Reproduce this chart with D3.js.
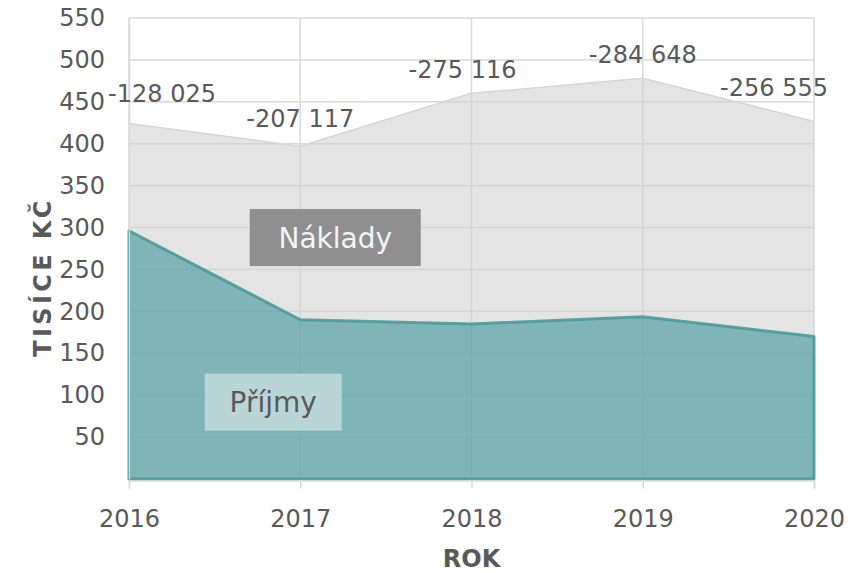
<!DOCTYPE html>
<html>
<head>
<meta charset="utf-8">
<script src="https://cdn.jsdelivr.net/npm/d3@7"></script>
<style>
	body { margin: 0; background: #fff; }
	svg { font-family: "DejaVu Sans", Verdana, sans-serif; }
	.axis text { fill: #595959; font-size: 24px; font-family: "DejaVu Sans", Verdana, sans-serif; }
	.axistitle { fill: #595959; font-size: 24px; font-weight: bold; }
	.datalabel { fill: #595959; font-size: 24px; }
</style>
</head>
<body>
<svg class="chart"></svg>
<script>
/* Area chart: Příjmy vs Náklady */

var years = [2016, 2017, 2018, 2019, 2020];
var prijmy = [296, 190, 185, 193.5, 170];
var naklady = [424, 397.1, 460.1, 478.1, 426.6];
var diffLabels = ["-128 025", "-207 117", "-275 116", "-284 648", "-256 555"];
var yTicks = [50, 100, 150, 200, 250, 300, 350, 400, 450, 500, 550];

var totalWidth = 852,
	totalHeight = 573;
var margin = {top: 18, right: 38, bottom: 94, left: 129},
	width = totalWidth - margin.left - margin.right,
	height = totalHeight - margin.top - margin.bottom;

var data = years.map(function(y, i) {
	return {year: y, prijmy: prijmy[i], naklady: naklady[i], label: diffLabels[i]};
});

var x = d3.scalePoint()
	.domain(years)
	.range([0, width]);

var y = d3.scaleLinear()
	.domain([0, 550])
	.range([height, 0]);

var svg = d3.select(".chart")
	.attr("width", totalWidth)
	.attr("height", totalHeight);

var chart = svg.append("g")
	.attr("transform", "translate(" + margin.left + "," + margin.top + ")");

// Grid lines (drawn under the translucent areas)
chart.append("g")
	.selectAll("line")
	.data(yTicks)
  .enter().append("line")
	.attr("x1", 0)
	.attr("x2", width)
	.attr("y1", function(d) { return y(d); })
	.attr("y2", function(d) { return y(d); })
	.attr("stroke", "#d9d9d9")
	.attr("stroke-width", 1.5);

chart.append("g")
	.selectAll("line")
	.data(years)
  .enter().append("line")
	.attr("x1", function(d) { return x(d); })
	.attr("x2", function(d) { return x(d); })
	.attr("y1", 0)
	.attr("y2", height)
	.attr("stroke", "#d9d9d9")
	.attr("stroke-width", 1.5);

// Náklady area
var areaNaklady = d3.area()
	.x(function(d) { return x(d.year); })
	.y0(height)
	.y1(function(d) { return y(d.naklady); });

chart.append("path")
	.datum(data)
	.attr("d", areaNaklady)
	.attr("fill", "#d1d1d1")
	.attr("fill-opacity", 0.58);

chart.append("path")
	.datum(data)
	.attr("d", d3.line()
		.x(function(d) { return x(d.year); })
		.y(function(d) { return y(d.naklady); }))
	.attr("fill", "none")
	.attr("stroke", "#d6d6d6")
	.attr("stroke-width", 1.5);

// Příjmy area
var areaPrijmy = d3.area()
	.x(function(d) { return x(d.year); })
	.y0(height)
	.y1(function(d) { return y(d.prijmy); });

chart.append("path")
	.datum(data)
	.attr("d", areaPrijmy)
	.attr("fill", "#54a1a4")
	.attr("fill-opacity", 0.7)
	.attr("stroke", "#4a9a9c")
	.attr("stroke-opacity", 0.9)
	.attr("stroke-width", 3)
	.attr("stroke-linejoin", "round");

// Axes
var xAxis = d3.axisBottom(x)
	.tickSize(8)
	.tickPadding(14)
	.tickFormat(d3.format("d"));

var yAxis = d3.axisLeft(y)
	.tickValues(yTicks)
	.tickSize(0)
	.tickPadding(24);

var gx = chart.append("g")
	.attr("class", "x axis")
	.attr("transform", "translate(0," + (height + 1.5) + ")")
	.call(xAxis);
gx.select(".domain").attr("stroke", "#d9d9d9").attr("stroke-width", 1.5);
gx.selectAll(".tick line").attr("stroke", "#d9d9d9").attr("stroke-width", 1.5);
gx.selectAll(".tick text").attr("dy", "1.0em");

var gy = chart.append("g")
	.attr("class", "y axis")
	.call(yAxis);
gy.select(".domain").attr("stroke", "#d9d9d9").attr("stroke-width", 1.5);

// Difference labels above Náklady points
var labelNudge = [[33, -22], [0, -19], [-9, -15], [0, -15], [-40, -25]];

chart.selectAll(".datalabel")
	.data(data)
  .enter().append("text")
	.attr("class", "datalabel")
	.attr("text-anchor", "middle")
	.attr("x", function(d, i) { return x(d.year) + labelNudge[i][0]; })
	.attr("y", function(d, i) { return y(d.naklady) + labelNudge[i][1]; })
	.text(function(d) { return d.label; });

// Series name boxes
function seriesBox(text, cx, cy, w, h, boxColor, textColor) {
	chart.append("rect")
		.attr("x", cx - w / 2)
		.attr("y", cy - h / 2)
		.attr("width", w)
		.attr("height", h)
		.attr("fill", boxColor);
	chart.append("text")
		.attr("x", cx)
		.attr("y", cy)
		.attr("dy", "0.36em")
		.attr("text-anchor", "middle")
		.attr("fill", textColor)
		.style("font-size", "28px")
		.text(text);
}
seriesBox("Náklady", x(2017) + 35, y(300) + 10, 171, 57, "#8f8f8f", "#f4f4f4");
seriesBox("Příjmy", x(2017) - 27, y(100) + 7, 137, 57, "#b9d5d8", "#595959");

// Axis titles
svg.append("text")
	.attr("class", "axistitle")
	.attr("text-anchor", "middle")
	.attr("x", margin.left + width / 2)
	.attr("y", 567)
	.text("ROK");

svg.append("text")
	.attr("class", "axistitle")
	.attr("text-anchor", "middle")
	.attr("transform", "translate(51,277) rotate(-90)")
	.style("letter-spacing", "3.4px")
	.text("TISÍCE KČ");
</script>
</body>
</html>
